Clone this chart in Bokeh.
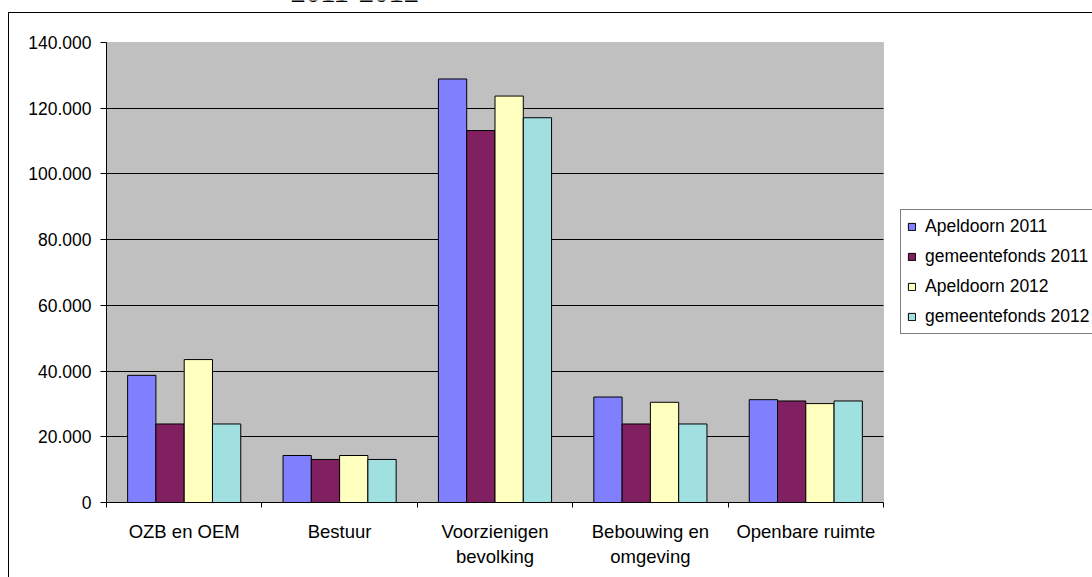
from bokeh.plotting import figure
from bokeh.models import (ColumnDataSource, Range1d, FixedTicker, Legend, LegendItem,
                          InlineStyleSheet, BoxAnnotation, Label)
from bokeh.transform import dodge
from bokeh.embed import file_html
from bokeh.resources import INLINE

# ---- data ----
categories = ["OZB en OEM", "Bestuur", "Voorzienigen\nbevolking", "Bebouwing en\nomgeving", "Openbare ruimte"]
series_names = ["Apeldoorn 2011", "gemeentefonds 2011", "Apeldoorn 2012", "gemeentefonds 2012"]
apeldoorn_2011 = [38700, 14300, 128900, 32100, 31300]
gemeentefonds_2011 = [23900, 13100, 113200, 23900, 30900]
apeldoorn_2012 = [43500, 14300, 123700, 30500, 30100]
gemeentefonds_2012 = [23900, 13100, 117100, 23900, 30900]
y_ticks = [0, 20000, 40000, 60000, 80000, 100000, 120000, 140000]
y_tick_labels = ["0", "20.000", "40.000", "60.000", "80.000", "100.000", "120.000", "140.000"]
title_text = "2011-2012"

colors = ["#8080FF", "#802060", "#FFFFC0", "#A0E0E0"]
FONT = "Liberation Sans"

# ---- layout geometry (pixels) ----
W, H = 1092, 577
LEFT, BOTTOM = 106, 75            # frame spans x 106..1092, y 0..502
PLOT_W = 777                      # width of the grey plot area
PLOT_TOP = 42                     # pixel row of the top of the grey plot area
TITLE_PX = -8                     # pixel row used to place the (cut-off) title
frame_w = W - LEFT
frame_h = H - BOTTOM

n = len(categories)
y_max = y_ticks[-1]
centers = [i + 0.5 for i in range(n)]      # category slot centres on the index scale
bounds = list(range(n + 1))                # category slot boundaries

x_end = n * frame_w / PLOT_W
y_end = y_max * frame_h / (frame_h - PLOT_TOP)

source = ColumnDataSource(dict(pos=centers, s0=apeldoorn_2011, s1=gemeentefonds_2011,
                               s2=apeldoorn_2012, s3=gemeentefonds_2012))

p = figure(width=W, height=H, x_range=Range1d(0, x_end), y_range=Range1d(0, y_end),
           output_backend="svg", toolbar_location=None,
           min_border_left=LEFT, min_border_right=0, min_border_top=0, min_border_bottom=BOTTOM)

p.background_fill_color = "white"
p.border_fill_color = "white"
p.outline_line_color = None

# grey plot area with grey outline
area = BoxAnnotation(left=0, right=n, bottom=0, top=y_max, fill_color="#C0C0C0", fill_alpha=1,
                     line_color="#808080", line_width=1, level="image")
p.add_layout(area)

# y axis
yax = p.yaxis[0]
yax.bounds = (0, y_max)
yax.ticker = FixedTicker(ticks=y_ticks, minor_ticks=[])
yax.major_label_overrides = {t: l for t, l in zip(y_ticks, y_tick_labels)}
yax.axis_line_color = "black"
yax.major_tick_line_color = "black"
yax.major_tick_out = 6
yax.major_tick_in = 0
yax.minor_tick_line_color = None
yax.major_label_standoff = 9
yax.major_label_text_font = FONT
yax.major_label_text_font_size = "17.5px"
yax.major_label_text_color = "black"

# grid (only inside the grey area)
p.xgrid.visible = False
grid_ticks = y_ticks[1:-1]
if "cross_bounds" in p.ygrid.properties():
    p.ygrid.ticker = FixedTicker(ticks=grid_ticks)
    p.ygrid.cross_bounds = (0, n)
    p.ygrid.bounds = (0, y_max)
    p.ygrid.grid_line_color = "black"
    p.ygrid.grid_line_width = 1
else:
    p.ygrid.visible = False
    p.segment(x0=[0] * len(grid_ticks), x1=[n] * len(grid_ticks), y0=grid_ticks, y1=grid_ticks,
              line_color="black", line_width=1, level="underlay")

# x axis: ticks at category boundaries, labels at centres
xax = p.xaxis[0]
xax.bounds = (0, n)
xax.ticker = FixedTicker(ticks=centers, minor_ticks=bounds)
xax.major_label_overrides = {c: lab for c, lab in zip(centers, categories)}
xax.axis_line_color = "black"
xax.major_tick_line_color = None
xax.major_tick_out = 0
xax.major_tick_in = 0
xax.minor_tick_line_color = "black"
xax.minor_tick_out = 5
xax.minor_tick_in = 0
xax.major_label_standoff = 13
xax.major_label_text_font = FONT
xax.major_label_text_font_size = "18.5px"
xax.major_label_text_color = "black"

# bars
bw = 0.182
offsets = [-1.5 * bw, -0.5 * bw, 0.5 * bw, 1.5 * bw]
renderers = []
for i, (col, off) in enumerate(zip(["s0", "s1", "s2", "s3"], offsets)):
    r = p.vbar(x=dodge("pos", off), top=col, width=bw, source=source,
               fill_color=colors[i], line_color="black", line_width=1)
    renderers.append(r)

legend = Legend(items=[LegendItem(label=nm, renderers=[r]) for nm, r in zip(series_names, renderers)],
                location=(794, 168))
legend.border_line_color = "black"
legend.border_line_width = 1
legend.background_fill_color = "white"
legend.background_fill_alpha = 1
legend.label_text_font = FONT
legend.label_text_font_size = "17.5px"
legend.label_text_color = "black"
legend.glyph_width = 9
legend.glyph_height = 9
legend.label_height = 20
legend.label_standoff = 9
legend.spacing = 9
legend.padding = 6
legend.margin = 0
p.add_layout(legend, "center")

# title: only its lower edge shows at the top of the window
title = Label(x=(290 - LEFT) * n / PLOT_W,
              y=y_max + (PLOT_TOP - TITLE_PX) * y_max / (frame_h - PLOT_TOP),
              text=title_text, text_align="left", text_baseline="alphabetic",
              text_font="Liberation Serif", text_font_style="bold", text_font_size="30px",
              text_color="black")
p.add_layout(title)

# outer chart border (left and top edges only show in the window)
p.stylesheets = [InlineStyleSheet(css=(
    ":host::after{content:'';position:absolute;left:8px;top:12px;right:0;bottom:0;"
    "border-left:1px solid #000;border-top:1px solid #000;pointer-events:none;z-index:50;}"))]

open("out.html", "w").write(file_html(p, INLINE))
